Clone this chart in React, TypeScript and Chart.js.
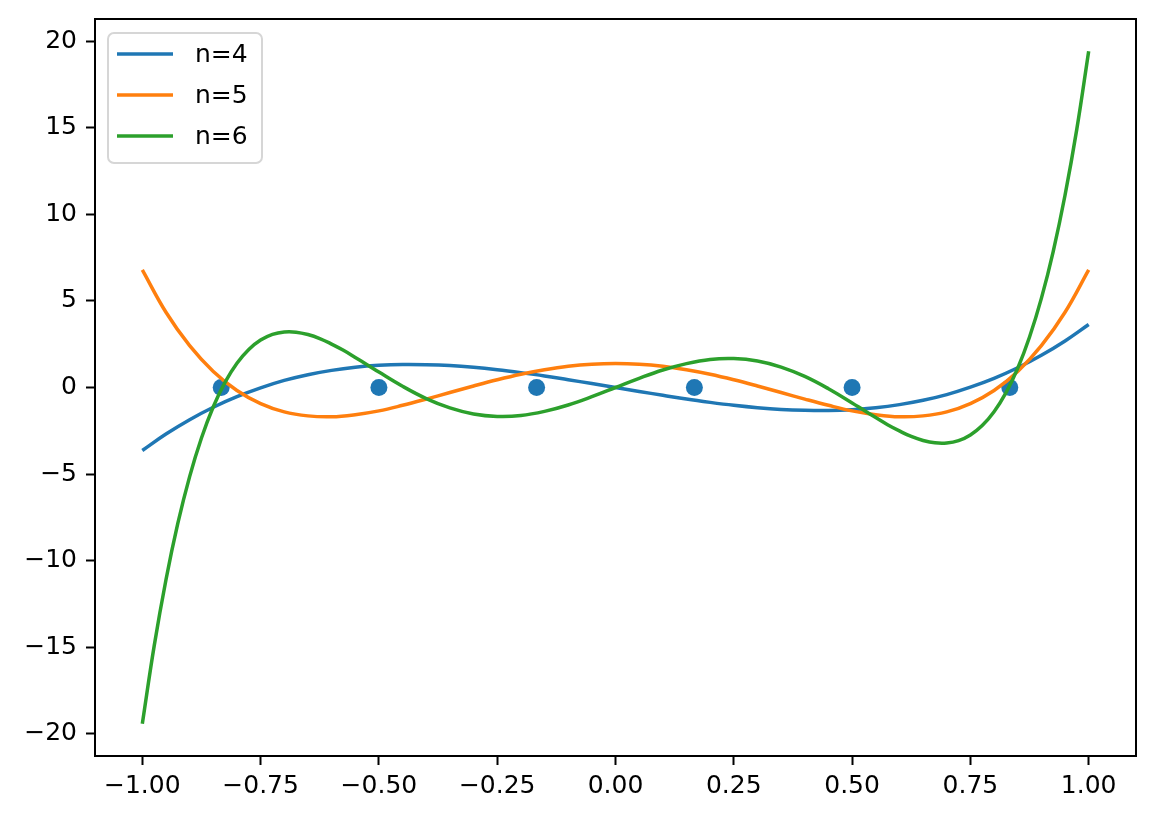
import React, { useEffect, useRef } from 'react';
import { Chart, registerables } from 'chart.js';

Chart.register(...registerables);

// sample positions along x, read every 0.05
const xs = [
  -1, -0.95, -0.9, -0.85, -0.8, -0.75, -0.7, -0.65, -0.6, -0.55, -0.5, -0.45, -0.4, -0.35, -0.3,
  -0.25, -0.2, -0.15, -0.1, -0.05, 0, 0.05, 0.1, 0.15, 0.2, 0.25, 0.3, 0.35, 0.4, 0.45, 0.5, 0.55,
  0.6, 0.65, 0.7, 0.75, 0.8, 0.85, 0.9, 0.95, 1,
];

const n4 = [
  -3.64, -2.69, -1.86, -1.14, -0.53, -0.02, 0.41, 0.74, 0.99, 1.17, 1.28, 1.33, 1.32, 1.27, 1.17,
  1.03, 0.86, 0.67, 0.45, 0.23, 0, -0.23, -0.45, -0.67, -0.86, -1.03, -1.17, -1.27, -1.32, -1.33,
  -1.28, -1.17, -0.99, -0.74, -0.41, 0.02, 0.53, 1.14, 1.86, 2.69, 3.64,
];

const n5 = [
  6.8, 4.35, 2.42, 0.93, -0.17, -0.93, -1.41, -1.64, -1.69, -1.57, -1.35, -1.03, -0.67, -0.29,
  0.09, 0.45, 0.77, 1.03, 1.23, 1.35, 1.39, 1.35, 1.23, 1.03, 0.77, 0.45, 0.09, -0.29, -0.67,
  -1.03, -1.35, -1.57, -1.69, -1.64, -1.41, -0.93, -0.17, 0.93, 2.42, 4.35, 6.8,
];

// n=6 is read more finely near the ends, where it bends sharply
const xs6 = [
  -1, -0.975, -0.95, -0.925, -0.9, -0.875, -0.85, -0.825, -0.8, -0.775, -0.75, -0.725, -0.7,
  -0.675, -0.65, -0.625, -0.6, -0.575, -0.55, -0.525, -0.5, -0.45, -0.4, -0.35, -0.3, -0.25, -0.2,
  -0.15, -0.1, -0.05, 0, 0.05, 0.1, 0.15, 0.2, 0.25, 0.3, 0.35, 0.4, 0.45, 0.5, 0.525, 0.55, 0.575,
  0.6, 0.625, 0.65, 0.675, 0.7, 0.725, 0.75, 0.775, 0.8, 0.825, 0.85, 0.875, 0.9, 0.925, 0.95,
  0.975, 1,
];

const n6 = [
  -19.44, -14.95, -11.11, -7.86, -5.15, -2.92, -1.11, 0.31, 1.4, 2.2, 2.74, 3.07, 3.21, 3.2, 3.06,
  2.83, 2.51, 2.15, 1.74, 1.32, 0.89, 0.07, -0.64, -1.18, -1.53, -1.67, -1.62, -1.38, -1.01, -0.53,
  0, 0.53, 1.01, 1.38, 1.62, 1.67, 1.53, 1.18, 0.64, -0.07, -0.89, -1.32, -1.74, -2.15, -2.51,
  -2.83, -3.06, -3.2, -3.21, -3.07, -2.74, -2.2, -1.4, -0.31, 1.11, 2.92, 5.15, 7.86, 11.11, 14.95,
  19.44,
];

// interpolation nodes
const nodeX = [-0.8333, -0.5, -0.1667, 0.1667, 0.5, 0.8333];
const nodeY = [0, 0, 0, 0, 0, 0];

const seriesLabels = ['n=4', 'n=5', 'n=6'];
const seriesColors = ['#1f77b4', '#ff7f0e', '#2ca02c'];

const xTickValues = [-1, -0.75, -0.5, -0.25, 0, 0.25, 0.5, 0.75, 1];
const yTickValues = [-20, -15, -10, -5, 0, 5, 10, 15, 20];

const FONT = 'DejaVu Sans';
const fmt = (v: number, d: number) => v.toFixed(d).replace('-', '\u2212');

const App: React.FC = () => {
  const canvasRef = useRef<HTMLCanvasElement | null>(null);
  const chartInstance = useRef<Chart | null>(null);

  useEffect(() => {
    const canvas = canvasRef.current;
    if (!canvas) return;
    const ctx = canvas.getContext('2d');
    if (!ctx) return;

    if (chartInstance.current) chartInstance.current.destroy();

    const curves = [
      { x: xs, y: n4 },
      { x: xs, y: n5 },
      { x: xs6, y: n6 },
    ];

    chartInstance.current = new Chart(ctx, {
      type: 'line',
      data: {
        datasets: [
          ...curves.map((c, i) => ({
            type: 'line' as const,
            label: seriesLabels[i],
            data: c.x.map((x, j) => ({ x, y: c.y[j] })),
            borderColor: seriesColors[i],
            borderWidth: 3.5,
            pointRadius: 0,
            tension: 0.4,
            fill: false,
            order: 3 - i,
          })),
          {
            type: 'scatter' as const,
            label: '',
            data: nodeX.map((x, j) => ({ x, y: nodeY[j] })),
            backgroundColor: '#1f77b4',
            borderWidth: 0,
            pointRadius: 8.5,
            showLine: false,
            order: 10,
          },
        ],
      },
      options: {
        animation: false,
        responsive: true,
        maintainAspectRatio: false,
        plugins: {
          legend: { display: false },
          tooltip: { enabled: false },
        },
        layout: {
          padding: { left: 0, right: 19, top: 19, bottom: 0 },
        },
        scales: {
          x: {
            type: 'linear',
            min: -1.1,
            max: 1.1,
            afterFit: (scale: any) => {
              scale.height = 66;
              scale.paddingLeft = 0;
              scale.paddingRight = 0;
            },
            afterBuildTicks: (scale: any) => {
              scale.ticks = xTickValues.map((v) => ({ value: v }));
            },
            ticks: {
              color: '#000',
              font: { family: FONT, size: 25 },
              padding: 6,
              maxRotation: 0,
              autoSkip: false,
              callback: (v: any) => fmt(Number(v), 2),
            },
            grid: {
              drawOnChartArea: false,
              drawTicks: true,
              tickLength: 9,
              tickColor: '#000',
              tickWidth: 2,
            },
            border: { display: false },
          },
          y: {
            type: 'linear',
            min: -21.3,
            max: 21.3,
            afterFit: (scale: any) => {
              scale.width = 95;
              scale.paddingTop = 0;
              scale.paddingBottom = 0;
            },
            afterBuildTicks: (scale: any) => {
              scale.ticks = yTickValues.map((v) => ({ value: v }));
            },
            ticks: {
              color: '#000',
              font: { family: FONT, size: 25 },
              padding: 9,
              autoSkip: false,
              callback: (v: any) => fmt(Number(v), 0),
            },
            grid: {
              drawOnChartArea: false,
              drawTicks: true,
              tickLength: 9,
              tickColor: '#000',
              tickWidth: 2,
            },
            border: { display: false },
          },
        },
      },
      plugins: [
        {
          id: 'frameAndLegend',
          afterDraw(chart) {
            const { ctx, chartArea } = chart;
            ctx.save();
            // axes frame
            ctx.strokeStyle = '#000';
            ctx.lineWidth = 2;
            ctx.strokeRect(
              chartArea.left,
              chartArea.top,
              chartArea.right - chartArea.left,
              chartArea.bottom - chartArea.top
            );

            // legend box
            const bx = chartArea.left + 13;
            const by = chartArea.top + 14;
            const bw = 154;
            const bh = 130;
            ctx.beginPath();
            ctx.roundRect(bx, by, bw, bh, 6);
            ctx.fillStyle = 'rgba(255,255,255,0.8)';
            ctx.fill();
            ctx.strokeStyle = '#d6d6d6';
            ctx.lineWidth = 2;
            ctx.stroke();

            ctx.font = `25px "${FONT}"`;
            ctx.textBaseline = 'middle';
            ctx.textAlign = 'left';
            chart.data.datasets.forEach((ds: any, i) => {
              if (!ds.label) return;
              const y = by + 21 + i * 41;
              ctx.strokeStyle = ds.borderColor;
              ctx.lineWidth = 3.5;
              ctx.beginPath();
              ctx.moveTo(bx + 9, y);
              ctx.lineTo(bx + 65, y);
              ctx.stroke();
              ctx.fillStyle = '#000';
              ctx.fillText(ds.label, bx + 87, y + 1);
            });
            ctx.restore();
          },
        },
      ],
    });

    return () => {
      if (chartInstance.current) {
        chartInstance.current.destroy();
        chartInstance.current = null;
      }
    };
  }, []);

  return (
    <div style={{ position: 'absolute', left: 0, top: 0, width: '1155px', height: '822px', background: '#fff' }}>
      <canvas ref={canvasRef}></canvas>
    </div>
  );
};

export default App;
